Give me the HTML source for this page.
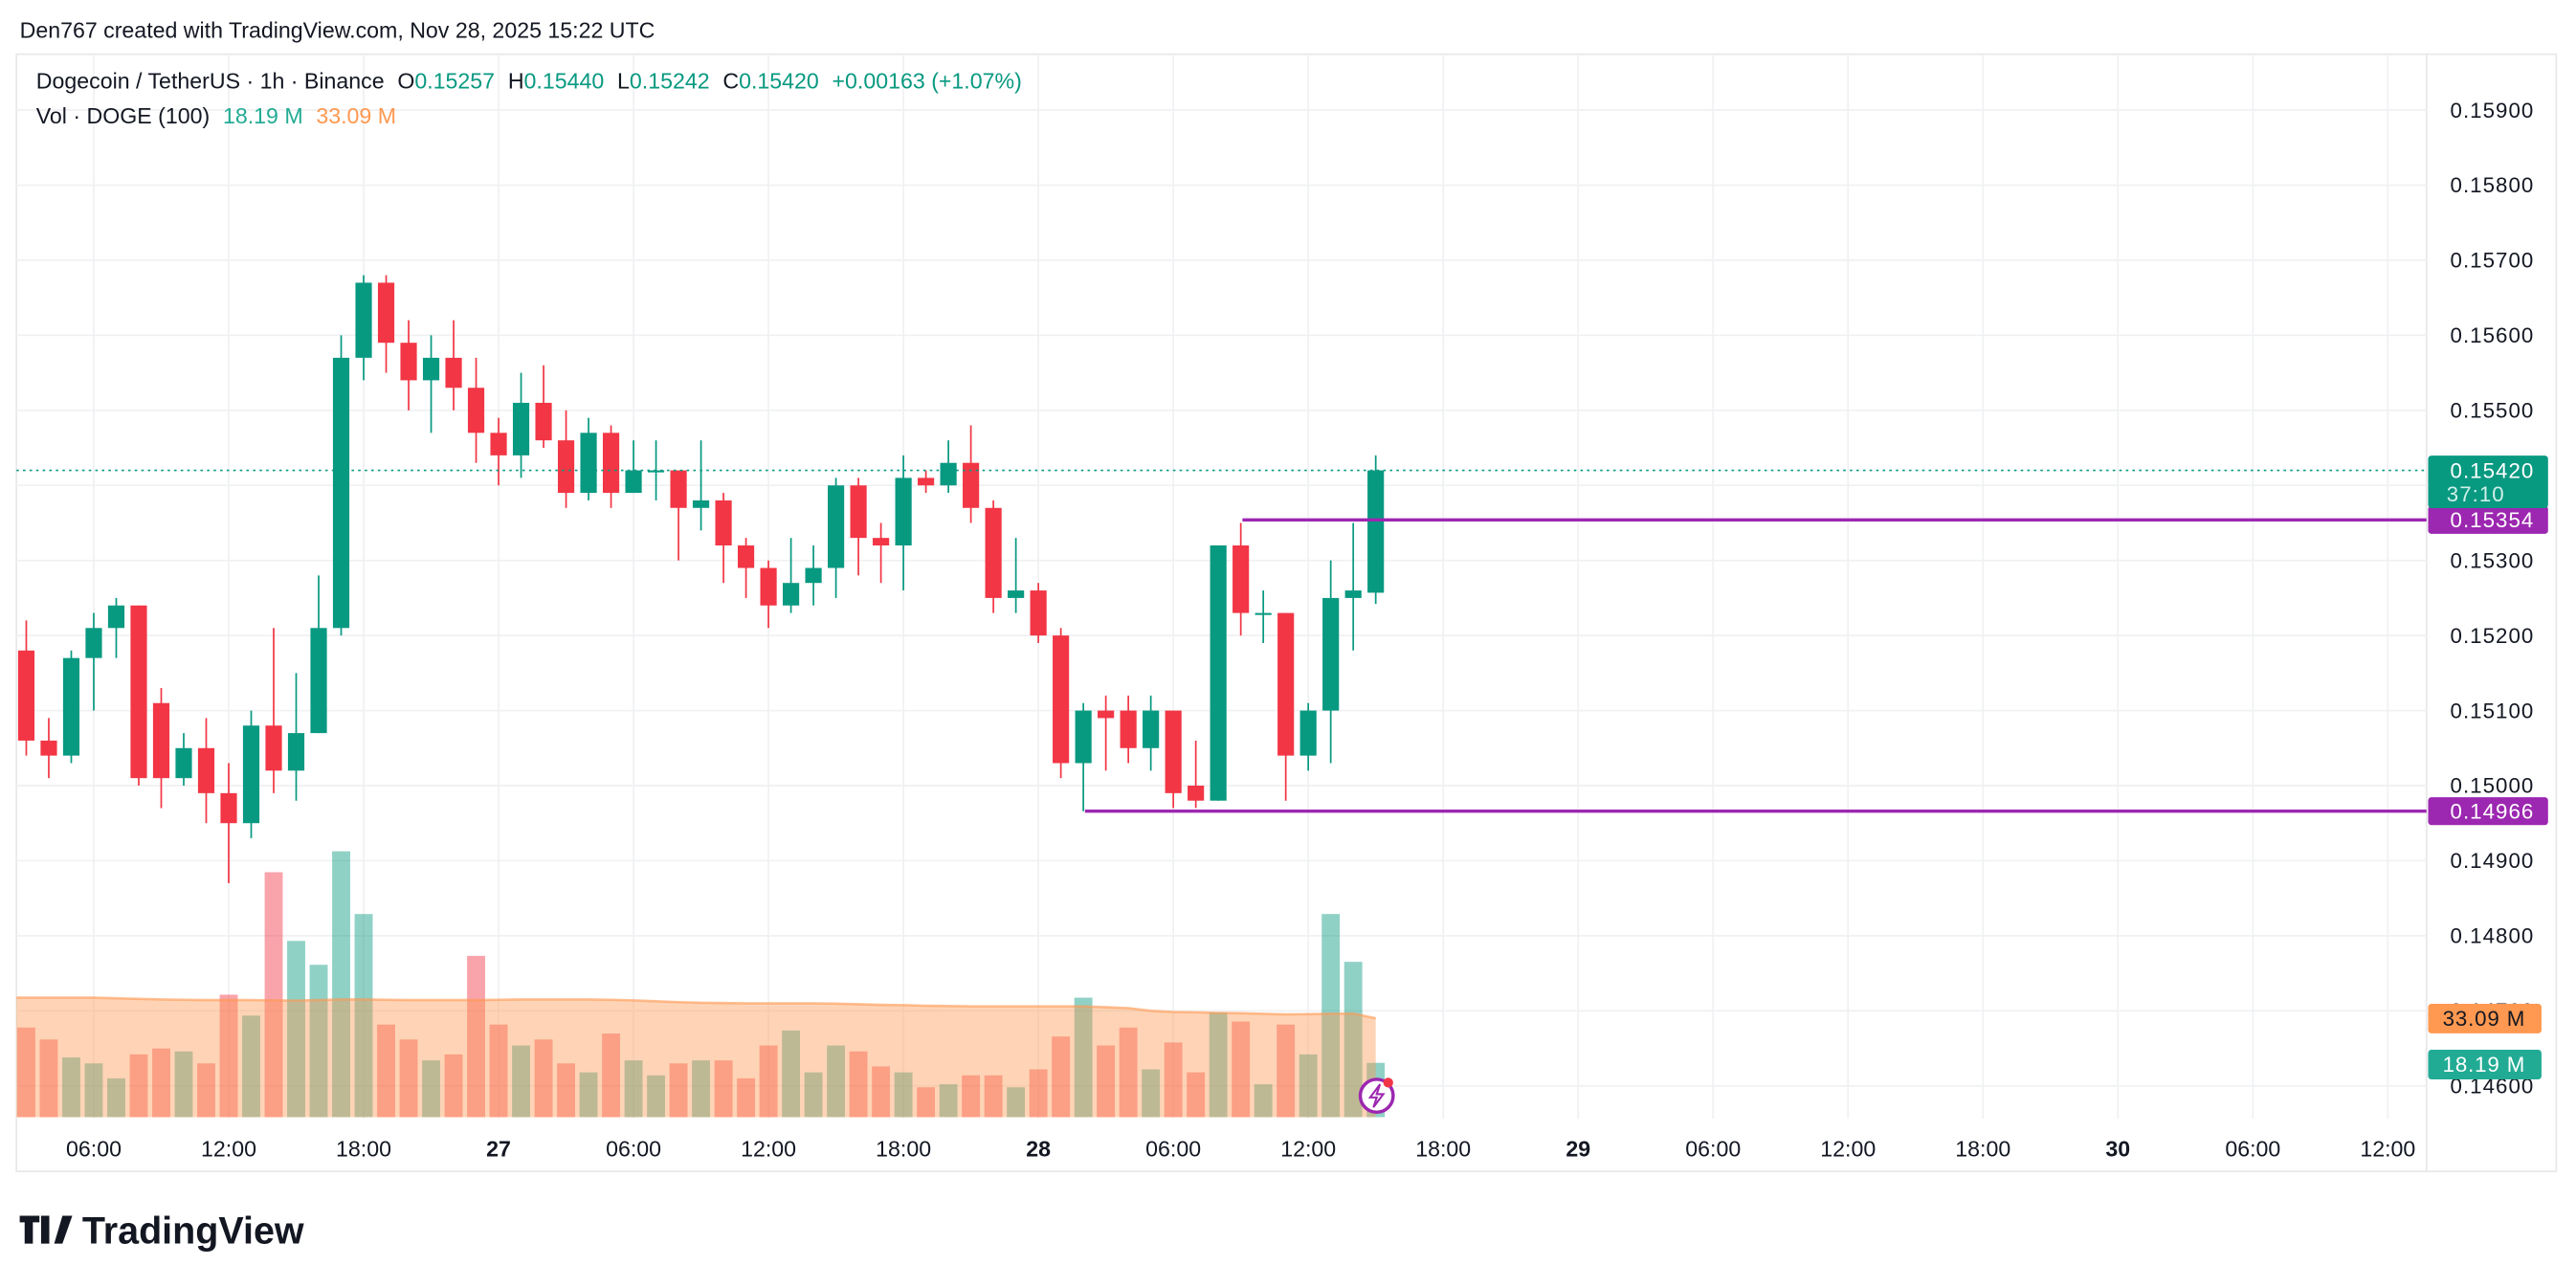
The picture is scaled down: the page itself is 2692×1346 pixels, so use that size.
<!DOCTYPE html>
<html><head><meta charset="utf-8">
<style>
html,body{margin:0;padding:0;background:#fff;}
svg{display:block;font-family:"Liberation Sans",sans-serif;}
</style></head>
<body>
<svg id="chart" width="2692" height="1346" viewBox="0 0 1568 784" xmlns="http://www.w3.org/2000/svg">
<rect x="0" y="0" width="1568" height="784" fill="#fff"/>
<text x="12" y="23" font-size="13.5" fill="#131722">Den767 created with TradingView.com, Nov 28, 2025 15:22 UTC</text>
<rect x="10" y="33" width="1546" height="680" fill="none" stroke="#e8e8ea" stroke-width="1"/>
<line x1="1477" y1="33" x2="1477" y2="713" stroke="#e8e8ea"/>
<g id="grid"></g>
<g id="vol"></g>
<g id="candles"></g>
<g id="overlay"></g>
<g id="axes"></g>
<g font-size="13.5">
<text x="22" y="54" fill="#131722">Dogecoin / TetherUS · 1h · Binance<tspan dx="8">O</tspan><tspan fill="#089981">0.15257</tspan><tspan dx="8">H</tspan><tspan fill="#089981">0.15440</tspan><tspan dx="8">L</tspan><tspan fill="#089981">0.15242</tspan><tspan dx="8">C</tspan><tspan fill="#089981">0.15420</tspan><tspan dx="8" fill="#089981">+0.00163 (+1.07%)</tspan></text>
<text x="22" y="75" fill="#131722">Vol · DOGE (100)<tspan dx="8" fill="#22ab94">18.19 M</tspan><tspan dx="8" fill="#ff9850">33.09 M</tspan></text>
</g>
<g>
<path d="M12 740h12v4h-4v13h-5v-13h-3z M25 740h5v17h-5z" fill="#131722"/>
<polygon points="33,757 38,740 44,740 38,757" fill="#131722"/>
<text x="50" y="757" font-size="23" font-weight="bold" fill="#131722">TradingView</text>
</g>
</svg>
<script>
const opens=[.1518,.1506,.1504,.1517,.1521,.1524,.1511,.1501,.1505,.1499,.1495,.1508,.1502,.1507,.1521,.1557,.1567,.1559,.1554,.1557,.1553,.1547,.1544,.1551,.1546,.1539,.1547,.1539,.1542,.1542,.1537,.1538,.1532,.1529,.1524,.1527,.1529,.1540,.1533,.1532,.1541,.1540,.1543,.1537,.1525,.1526,.1520,.1503,.1510,.1510,.1505,.1510,.1500,.1498,.1532,.1523,.1523,.1504,.1510,.1525,.15257];
const highs=[.1522,.1509,.1518,.1523,.1525,.1524,.1513,.1507,.1509,.1503,.1510,.1521,.1515,.1528,.1560,.1568,.1568,.1562,.1560,.1562,.1557,.1549,.1555,.1556,.1550,.1549,.1548,.1546,.1546,.1542,.1546,.1539,.1533,.1530,.1533,.1532,.1541,.1541,.1535,.1544,.1542,.1546,.1548,.1538,.1533,.1527,.1521,.1511,.1512,.1512,.1512,.1510,.1506,.1532,.1535,.1526,.1523,.1511,.1530,.1535,.15440];
const lows=[.1504,.1501,.1503,.1510,.1517,.1500,.1497,.1500,.1495,.1487,.1493,.1499,.1498,.1507,.1520,.1554,.1555,.1550,.1547,.1550,.1543,.1540,.1541,.1545,.1537,.1538,.1537,.1539,.1538,.1530,.1534,.1527,.1525,.1521,.1523,.1524,.1525,.1528,.1527,.1526,.1539,.1539,.1535,.1523,.1523,.1519,.1501,.14966,.1502,.1503,.1502,.1497,.1497,.1498,.1520,.1519,.1498,.1502,.1503,.1518,.15242];
const closes=[.1506,.1504,.1517,.1521,.1524,.1501,.1501,.1505,.1499,.1495,.1508,.1502,.1507,.1521,.1557,.1567,.1559,.1554,.1557,.1553,.1547,.1544,.1551,.1546,.1539,.1547,.1539,.1542,.1542,.1537,.1538,.1532,.1529,.1524,.1527,.1529,.1540,.1533,.1532,.1541,.1540,.1543,.1537,.1525,.1526,.1520,.1503,.1510,.1509,.1505,.1510,.1499,.1498,.1532,.1523,.1523,.1504,.1510,.1525,.1526,.15420];
const volumes=[30,26,20,18,13,21,23,22,18,41,34,82,59,51,89,68,31,26,19,21,54,31,24,26,18,15,28,19,14,18,19,19,13,24,29,15,24,22,17,15,10,11,14,14,10,16,27,40,24,30,16,25,15,35,32,11,31,21,68,52,18.19];
const volMA=[40,40,40,40,39.8,39.6,39.4,39.3,39.2,39.2,39.2,39.1,39,39.2,39.4,39.4,39.3,39.2,39.2,39.2,39.2,39.3,39.4,39.4,39.4,39.4,39.3,39.1,38.8,38.5,38.3,38.2,38.1,38.1,38.1,38.1,38,37.8,37.6,37.5,37.3,37.2,37.1,37.1,37.1,37.1,37.1,37.1,36.8,36.5,35.6,35.2,35.1,34.9,34.8,34.6,34.4,34.5,34.6,34.7,33.09];
const priceTicks=[0.159,0.158,0.157,0.156,0.155,0.154,0.153,0.152,0.151,0.150,0.149,0.148,0.147,0.146];
const timeTickHours=[3,9,15,21,27,33,39,45,51,57,63,69,75,81,87,93,99,105];
const timeTickLabels=["06:00","12:00","18:00","27","06:00","12:00","18:00","28","06:00","12:00","18:00","29","06:00","12:00","18:00","30","06:00","12:00"];
const levels=[0.15354,0.14966];
const levelStart=[54,47];

const NS="http://www.w3.org/2000/svg";
const x0=16, step=13.69;
const X=i=>x0+step*i;
const Y=p=>67+(0.159-p)/0.001*45.69;
const VY=v=>680-v/0.55;
const LX=1517;
function mk(tag,attrs,parent){const e=document.createElementNS(NS,tag);for(const k in attrs)e.setAttribute(k,attrs[k]);parent.appendChild(e);return e;}
const grid=document.getElementById('grid'),vol=document.getElementById('vol'),cg=document.getElementById('candles'),ov=document.getElementById('overlay'),ax=document.getElementById('axes');

priceTicks.forEach(p=>{
 const l=mk('line',{x1:10,x2:1477,y1:Y(p),y2:Y(p),stroke:'#f0f1f3'},grid);
 
 
 const t=mk('text',{x:LX,y:Y(p)+4.5,'font-size':13,'text-anchor':'middle',fill:'#131722','letter-spacing':'0.6'},ax);
 t.textContent=p.toFixed(5);
 
 
});
timeTickHours.forEach((h,k)=>{
 const x=X(h);
 const l=mk('line',{x1:x,x2:x,y1:33,y2:681,stroke:'#f0f1f3'},grid);
 
 
 const lab=timeTickLabels[k];
 const bold=!lab.includes(':');
 const t=mk('text',{x:x,y:704,'font-size':13.5,'text-anchor':'middle',fill:'#131722','font-weight':bold?'bold':'normal'},ax);
 t.textContent=lab;
 
 
});

volumes.forEach((v,i)=>{
 const up=closes[i]>=opens[i];
 const r=mk('rect',{x:X(i)-5.5,y:VY(v),width:11,height:680-VY(v),fill:up?'rgba(8,153,129,0.45)':'rgba(242,54,69,0.45)'},vol);
 
 
});
let d='M'+(X(0)-6)+' 680 L'+(X(0)-6)+' '+VY(volMA[0]);
volMA.forEach((v,i)=>{d+=' L'+X(i)+' '+VY(v);});
d+=' L'+X(volMA.length-1)+' 680 Z';
const area=mk('path',{d:d,fill:'rgba(255,152,82,0.42)'},vol);


let dl='M'+(X(0)-6)+' '+VY(volMA[0]);
volMA.forEach((v,i)=>{dl+=' L'+X(i)+' '+VY(v);});
const mline=mk('path',{d:dl,fill:'none',stroke:'rgba(255,152,82,0.6)','stroke-width':1.5},vol);



opens.forEach((o,i)=>{
 const c=closes[i],up=c>=o,col=up?'#089981':'#F23645',x=X(i);
 const g=mk('g',{},cg);
 
 
 mk('line',{x1:x,x2:x,y1:Y(highs[i]),y2:Y(lows[i]),stroke:col,'stroke-width':1},g);
 const top=Math.min(Y(o),Y(c)),h=Math.max(1.2,Math.abs(Y(o)-Y(c)));
 mk('rect',{x:x-5,y:top,width:10,height:h,fill:col},g);
});

const lastP=closes[closes.length-1];
const dot=mk('line',{x1:10,x2:1477,y1:Y(lastP),y2:Y(lastP),stroke:'#089981','stroke-dasharray':'1.5 2.5','stroke-width':1},ov);


levels.forEach((p,k)=>{
 const l=mk('line',{x1:X(levelStart[k])+1,x2:1477,y1:Y(p),y2:Y(p),stroke:'#9c27b0','stroke-width':2},ov);
 
 
 const b=mk('rect',{x:1478,y:Y(p)-8.5,width:73,height:17,rx:2,fill:'#9c27b0'},ax);
 
 
 const t=mk('text',{x:LX,y:Y(p)+4.5,'font-size':13,'text-anchor':'middle',fill:'#fff','letter-spacing':'0.6'},ax);
 t.textContent=p.toFixed(5);
 
 
});
const lb=mk('rect',{x:1478,y:Y(lastP)-9,width:73,height:32,rx:2,fill:'#089981'},ax);


const lt=mk('text',{x:LX,y:Y(lastP)+4.5,'font-size':13,'text-anchor':'middle',fill:'#fff','letter-spacing':'0.6'},ax);
lt.textContent=lastP.toFixed(5);


const ct=mk('text',{x:1507,y:Y(lastP)+19,'font-size':13,'text-anchor':'middle',fill:'#d0f0ea','letter-spacing':'0.6'},ax);
ct.textContent='37:10';



const maV=volMA[volMA.length-1],lv=volumes[volumes.length-1];
[[maV,'#ff9850','#131722',620],[lv,'#22ab94','#fff',648]].forEach(([v,bg,fg,yc])=>{
 const r=mk('rect',{x:1478,y:yc-9,width:69,height:18,rx:2,fill:bg},ax);
 
 
 const t=mk('text',{x:1512,y:yc+4.5,'font-size':13,'text-anchor':'middle',fill:fg,'letter-spacing':'0.5'},ax);
 t.textContent=v.toFixed(2)+' M';
 
 
});

const ic=mk('g',{},ov);


mk('circle',{cx:838,cy:667,r:10,fill:'#fff',stroke:'#9c27b0','stroke-width':2},ic);
mk('path',{d:'M840 660 L834 668 L838 668 L836 674 L842 666 L838 666 Z',fill:'none',stroke:'#9c27b0','stroke-width':1.2},ic);
mk('circle',{cx:845,cy:659,r:3,fill:'#F23645'},ic);
</script>
</body></html>
